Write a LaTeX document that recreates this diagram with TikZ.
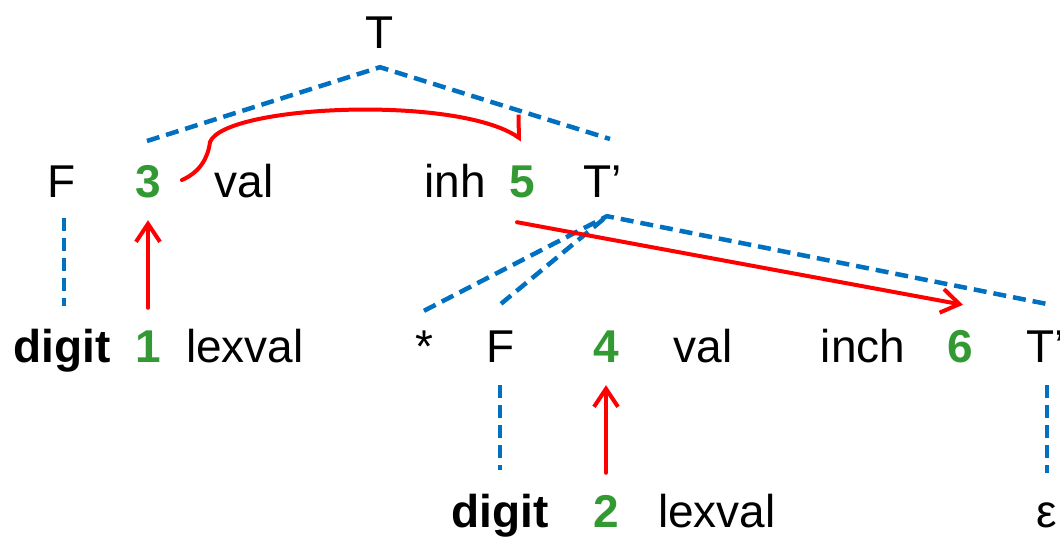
\documentclass[tikz,border=0pt]{standalone}
\usepackage{fontspec}
\setmainfont{Liberation Sans}
\usetikzlibrary{arrows.meta,calc}

\definecolor{treeblue}{HTML}{0070C0}
\definecolor{attrred}{HTML}{FF0000}
\definecolor{ordgreen}{HTML}{339933}

\begin{document}
\begin{tikzpicture}[
  x=1pt, y=-1pt,
  every node/.style={font=\fontsize{46}{50}\selectfont, inner sep=0pt, text height=34pt, text depth=0pt, anchor=base},
  num/.style={font=\fontsize{46}{50}\selectfont\bfseries, text=ordgreen},
  tok/.style={font=\fontsize{46}{50}\selectfont\bfseries},
  tree/.style={draw=treeblue, line width=4.5pt, dash pattern=on 13pt off 7pt},
  dep/.style={draw=attrred, line width=4pt, line cap=round, -{Straight Barb[length=18pt,width=24pt]}},
]
\useasboundingbox (0,0) rectangle (1060,538);

% Root
\node (T) at (380,48) {T};

% Row 1
\node (F1)     at (62,197)  {F};
\node[num] (n3) at (148,197) {3};
\node (val1)   at (244,197) {val};
\node (inh)    at (455,197) {inh};
\node[num] (n5) at (522,197) {5};
\node (Tp1)    at (603,197) {T’};

% Row 2
\node[tok] (digit1) at (62,362)  {digit};
\node[num] (n1)     at (148,362) {1};
\node (lexval1)     at (245,362) {lexval};
\node (star)        at (424,362) {*};
\node (F2)          at (501,362) {F};
\node[num] (n4)     at (606,362) {4};
\node (val2)        at (703,362) {val};
\node (inch)        at (863,362) {inch};
\node[num] (n6)     at (960,362) {6};
\node (Tp2)         at (1046,362) {T’};

% Row 3
\node[tok] (digit2) at (500,527)  {digit};
\node[num] (n2)     at (606,527)  {2};
\node (lexval2)     at (717,527)  {lexval};
\node (eps)         at (1047,527) {ε};

% Parse tree
\coordinate (Tl) at (147,141);
\coordinate (Tr) at (610,139);
\draw[tree] (Tl) -- ([yshift=-19pt]T.south) -- (Tr);
\draw[tree] ([xshift=2pt,yshift=-21pt]F1.south) -- ([xshift=2pt,yshift=22pt]digit1.north);
\draw[tree] ([yshift=17pt]star.north) -- ([xshift=4pt,yshift=-19pt]Tp1.south) -- ([yshift=24pt]Tp2.north);
\draw[tree] ([yshift=24pt]F2.north) -- ([xshift=4pt,yshift=-19pt]Tp1.south);
\draw[tree] ([xshift=-1pt,yshift=-23pt]F2.south) -- ([yshift=23pt]digit2.north);
\draw[tree] ([xshift=1pt,yshift=-23pt]Tp2.south) -- ([yshift=20pt]eps.north);

% Dependencies
\coordinate (bend) at (210,142);
\draw[dep] ([yshift=20pt]n1.north) -- ([yshift=-23pt]n3.south);
\draw[dep] ([yshift=20pt]n2.north) -- ([yshift=-23pt]n4.south);
\draw[dep] ([xshift=-5pt,yshift=-25pt]n5.south) -- ([xshift=3pt,yshift=23pt]n6.north);
\draw[dep, -{Straight Barb[harpoon,length=13pt,width=38pt]}]
  ([xshift=21pt]n3.east) .. controls (200,172) and (208,158) .. (bend)
  .. controls (225,105) and (455,95) .. ([yshift=23pt]n5.north);

\end{tikzpicture}
\end{document}
